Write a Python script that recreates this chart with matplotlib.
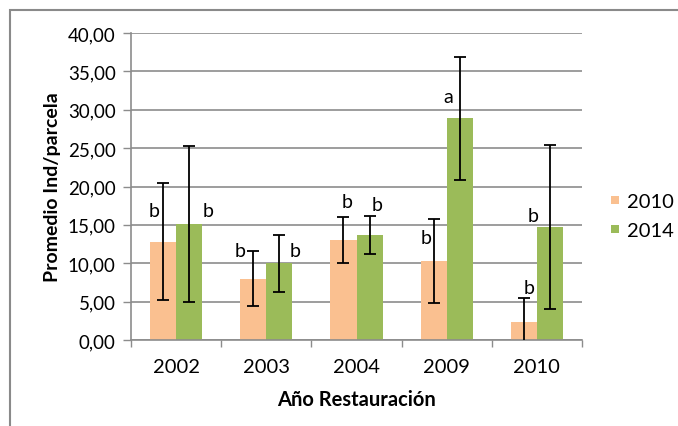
import matplotlib
matplotlib.use("Agg")
import matplotlib.pyplot as plt
import numpy as np
from matplotlib.patches import Rectangle
from matplotlib.lines import Line2D

plt.rcParams['font.family'] = ['Lato', 'DejaVu Sans']

years = ["2002", "2003", "2004", "2009", "2010"]
mean_2010 = [12.8, 8.0, 13.0, 10.3, 2.3]
err_2010 = [7.6, 3.6, 3.0, 5.5, 3.2]
mean_2014 = [15.1, 10.0, 13.7, 28.9, 14.7]
err_2014 = [10.2, 3.7, 2.5, 8.0, 10.7]
letters_2010 = ["b", "b", "b", "b", "b"]
letters_2014 = ["b", "b", "b", "a", "b"]

# letter placement (x shift in bar widths from bar centre, y centre in data units)
lx_2010 = [-0.35, -0.5, 0.15, -0.27, 0.2]
ly_2010 = [16.9, 11.6, 18.0, 13.4, 6.9]
lx_2014 = [0.73, 0.6, 0.27, -0.45, -0.65]
ly_2014 = [16.9, 11.6, 17.6, 31.7, 16.2]

c2010 = "#FAC090"
c2014 = "#9BBB59"
grid_c = "#8C8C8C"

fig = plt.figure(figsize=(6.78, 4.27), dpi=100)
fig.patches.append(Rectangle((10 / 678, -0.01), 1.1, 1 - 11 / 427 + 0.01,
                             transform=fig.transFigure, fill=False,
                             edgecolor="#8A8A8A", linewidth=1.5, zorder=0))

ax = fig.add_axes([131 / 678, 1 - 341 / 427, 451 / 678, 307 / 427])
x = np.arange(len(years))
w = 0.29

for xs, vals, errs, col in ((x - w / 2, mean_2010, err_2010, c2010),
                            (x + w / 2, mean_2014, err_2014, c2014)):
    ax.bar(xs, vals, width=w, color=col, zorder=2)
    vals = np.asarray(vals)
    errs = np.asarray(errs)
    hi = vals + errs
    lo = np.clip(vals - errs, 0, None)
    ax.vlines(xs, lo, hi, color="black", linewidth=1.3, zorder=3)
    ax.plot(xs, hi, ls="none", marker="_", ms=8, mew=1.3, color="black", zorder=3)
    # whiskers cut off at zero carry no cap
    keep = (vals - errs) > 0
    ax.plot(xs[keep], lo[keep], ls="none", marker="_", ms=8, mew=1.3,
            color="black", zorder=3)

for i in range(len(years)):
    ax.text(x[i] - w / 2 + lx_2010[i] * w, ly_2010[i], letters_2010[i],
            ha="center", va="center", fontsize=14)
    ax.text(x[i] + w / 2 + lx_2014[i] * w, ly_2014[i], letters_2014[i],
            ha="center", va="center", fontsize=14)

ax.set_xlim(-0.5, len(years) - 0.5)
ax.set_ylim(0, 40)
ax.set_yticks(np.arange(0, 41, 5))
ax.set_yticklabels([f"{v:.2f}".replace(".", ",") for v in np.arange(0, 41, 5)])
ax.set_xticks(x)
ax.set_xticklabels(years)
ax.set_xticks(np.arange(-0.5, len(years), 1.0), minor=True)
ax.tick_params(axis="x", which="major", length=0, labelsize=14.5, pad=13)
ax.tick_params(axis="x", which="minor", length=5, color=grid_c, width=1)
ax.tick_params(axis="y", length=6, color=grid_c, width=1, labelsize=13.5, pad=5)
ax.yaxis.grid(True, color=grid_c, linewidth=1.2, zorder=0)
ax.set_axisbelow(True)
for s in ("top", "right"):
    ax.spines[s].set_visible(False)
for s in ("left", "bottom"):
    ax.spines[s].set_color(grid_c)
    ax.spines[s].set_linewidth(1.2)

ax.set_xlabel("Año Restauración", fontsize=14.5, fontweight="bold", labelpad=10)
ax.set_ylabel("Promedio Ind/parcela", fontsize=14, fontweight="bold", labelpad=5)

handles = [Line2D([], [], ls="none", marker="s", ms=6, mew=0, color=c2010),
           Line2D([], [], ls="none", marker="s", ms=6, mew=0, color=c2014)]
fig.legend(handles, ["2010", "2014"], loc="center left",
           bbox_to_anchor=(609 / 678, 1 - 217 / 427), frameon=False,
           borderpad=0, borderaxespad=0,
           fontsize=14.5, handlelength=0.6, handletextpad=0.3,
           labelspacing=0.6)

fig.savefig("out.png", dpi=100)
